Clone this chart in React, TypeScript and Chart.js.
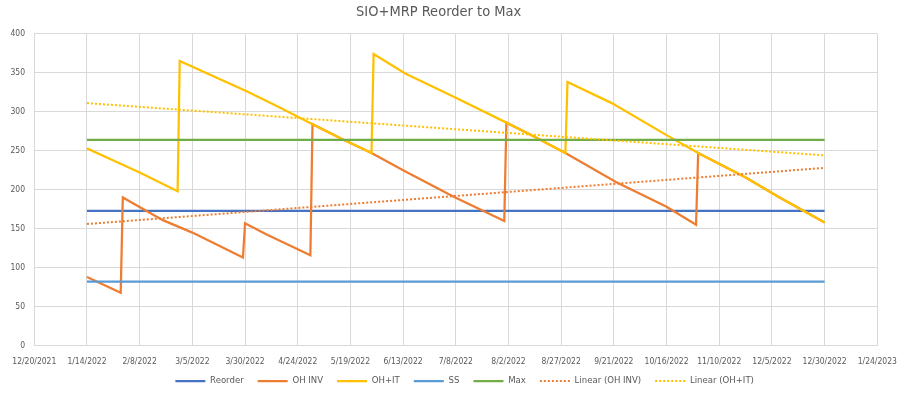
import React, { useEffect, useRef } from "react";
import { Chart, registerables } from "chart.js";

Chart.register(...registerables);

const chartTitle = "SIO+MRP Reorder to Max";

const xTickDates = [
  "2021-12-20", "2022-01-14", "2022-02-08", "2022-03-05", "2022-03-30",
  "2022-04-24", "2022-05-19", "2022-06-13", "2022-07-08", "2022-08-02",
  "2022-08-27", "2022-09-21", "2022-10-16", "2022-11-10", "2022-12-05",
  "2022-12-30", "2023-01-24",
];

const ohInvDates = [
  "2022-01-14", "2022-01-30", "2022-01-31", "2022-02-19", "2022-03-05",
  "2022-03-29", "2022-03-30", "2022-04-09", "2022-04-30", "2022-05-01",
  "2022-05-15", "2022-05-29", "2022-06-13", "2022-07-07", "2022-07-31",
  "2022-08-01", "2022-08-15", "2022-08-29", "2022-09-22", "2022-10-16",
  "2022-10-30", "2022-10-31", "2022-11-23", "2022-12-08", "2022-12-30",
];
const ohInvValues = [
  88, 68, 190, 161, 145,
  113, 157, 143, 116, 284,
  265, 247, 225, 191, 160,
  286, 267, 247, 210, 178,
  155, 247, 215, 191, 158,
];

const ohItDates = [
  "2022-01-14", "2022-01-26", "2022-02-08", "2022-02-26", "2022-02-27",
  "2022-03-31", "2022-04-15", "2022-05-01", "2022-05-15", "2022-05-29",
  "2022-05-30", "2022-06-14", "2022-07-08", "2022-08-01", "2022-08-15",
  "2022-08-29", "2022-08-30", "2022-09-20", "2022-10-16", "2022-10-31",
  "2022-11-23", "2022-12-08", "2022-12-30",
];
const ohItValues = [
  253, 238, 222, 198, 365,
  326, 306, 284, 265, 247,
  374, 349, 318, 286, 267,
  247, 338, 311, 270, 247,
  215, 191, 158,
];

const flatDates = ["2022-01-14", "2022-12-30"];
const reorderValues = [173, 173];
const ssValues = [82, 82];
const maxValues = [264, 264];
const trendOhInvValues = [156, 228];
const trendOhItValues = [311, 244];

const xMinDate = "2021-12-20";
const xMaxDate = "2023-01-24";
const yMin = 0;
const yMax = 400;
const yStep = 50;

const toMs = (s: string) => {
  const [y, m, d] = s.split("-").map(Number);
  return Date.UTC(y, m - 1, d);
};
const fmt = (v: number) => {
  const d = new Date(Math.round(v / 86400000) * 86400000);
  return `${d.getUTCMonth() + 1}/${d.getUTCDate()}/${d.getUTCFullYear()}`;
};
const pts = (dates: string[], vals: number[]) =>
  dates.map((d, i) => ({ x: toMs(d), y: vals[i] }));

const FONT = "'DejaVu Sans Condensed', 'DejaVu Sans', sans-serif";
const TEXT = "#595959";
const GRID = "#D9D9D9";

const legendShift = {
  id: "legendShift",
  afterLayout(chart: any) {
    const l = chart.legend;
    if (l) {
      l.left += 26;
      l.right += 26;
      l.top -= 6.75;
      l.bottom -= 6.75;
    }
  },
};

export default function App() {
  const ref = useRef<HTMLCanvasElement>(null);
  useEffect(() => {
    if (!ref.current) return;
    const mk = (label: string, data: any[], color: string, width: number, dash: number[] | undefined, order: number) => ({
      label,
      data,
      borderColor: color,
      backgroundColor: color,
      borderWidth: width,
      borderDash: dash,
      pointRadius: 0,
      pointHoverRadius: 0,
      tension: 0,
      fill: false,
      showLine: true,
      order,
    });
    const chart = new Chart(ref.current, {
      type: "scatter",
      plugins: [legendShift],
      data: {
        datasets: [
          mk("Reorder", pts(flatDates, reorderValues), "#4472C4", 2.25, undefined, 10),
          mk("OH INV", pts(ohInvDates, ohInvValues), "#ED7D31", 2.25, undefined, 9),
          mk("OH+IT", pts(ohItDates, ohItValues), "#FFC000", 2.25, undefined, 8),
          mk("SS", pts(flatDates, ssValues), "#5B9BD5", 2.25, undefined, 7),
          mk("Max", pts(flatDates, maxValues), "#70AD47", 2.25, undefined, 6),
          mk("Linear (OH INV)", pts(flatDates, trendOhInvValues), "#ED7D31", 2, [2, 2], 5),
          mk("Linear (OH+IT)", pts(flatDates, trendOhItValues), "#FFC000", 2, [2, 2], 4),
        ] as any,
      },
      options: {
        responsive: false,
        animation: false,
        devicePixelRatio: 1,
        layout: { padding: { left: 0, right: 30.7, top: 0, bottom: 0 } },
        plugins: {
          title: {
            display: true,
            text: chartTitle,
            color: TEXT,
            font: { family: FONT, size: 14.5, weight: "normal" },
            padding: { top: 4, bottom: 12.3 },
          },
          legend: {
            display: true,
            position: "bottom",
            maxHeight: 26,
            labels: {
              usePointStyle: true,
              pointStyle: "line",
              pointStyleWidth: 30,
              color: TEXT,
              font: { family: FONT, size: 9.5 },
              padding: 14,
              sort: (a: any, b: any) => a.datasetIndex - b.datasetIndex,
              generateLabels: (ch: any) => {
                const items = Chart.defaults.plugins.legend.labels.generateLabels(ch);
                return items.map((it: any) => {
                  const ds: any = ch.data.datasets[it.datasetIndex];
                  return {
                    ...it,
                    pointStyle: "line",
                    strokeStyle: ds.borderColor,
                    fillStyle: ds.borderColor,
                    lineWidth: ds.borderWidth,
                    lineDash: ds.borderDash || [],
                    lineCap: "butt",
                  };
                });
              },
            },
          },
          tooltip: { enabled: false },
        },
        scales: {
          x: {
            type: "linear",
            min: toMs(xMinDate),
            max: toMs(xMaxDate),
            border: { display: false },
            grid: { color: GRID, lineWidth: 1, drawTicks: false },
            ticks: {
              color: TEXT,
              font: { family: FONT, size: 8.5 },
              padding: 11,
              autoSkip: false,
              maxRotation: 0,
              minRotation: 0,
              callback: (v: any) => fmt(Number(v)),
            },
            afterBuildTicks: (scale: any) => {
              scale.ticks = xTickDates.map((d) => ({ value: toMs(d) }));
            },
            afterFit: (scale: any) => {
              scale.height = 23.3;
            },
          },
          y: {
            type: "linear",
            min: yMin,
            max: yMax,
            border: { display: false },
            grid: { color: GRID, lineWidth: 1, drawTicks: false },
            ticks: {
              stepSize: yStep,
              color: TEXT,
              font: { family: FONT, size: 8.5 },
              padding: 9.3,
            },
            afterFit: (scale: any) => {
              scale.width = 34.3;
            },
          },
        },
      } as any,
    });
    return () => chart.destroy();
  }, []);
  return (
    <div style={{ position: "absolute", left: 0, top: 0, width: 908, height: 395, background: "#fff" }}>
      <canvas ref={ref} width={908} height={395} style={{ display: "block" }} />
    </div>
  );
}
